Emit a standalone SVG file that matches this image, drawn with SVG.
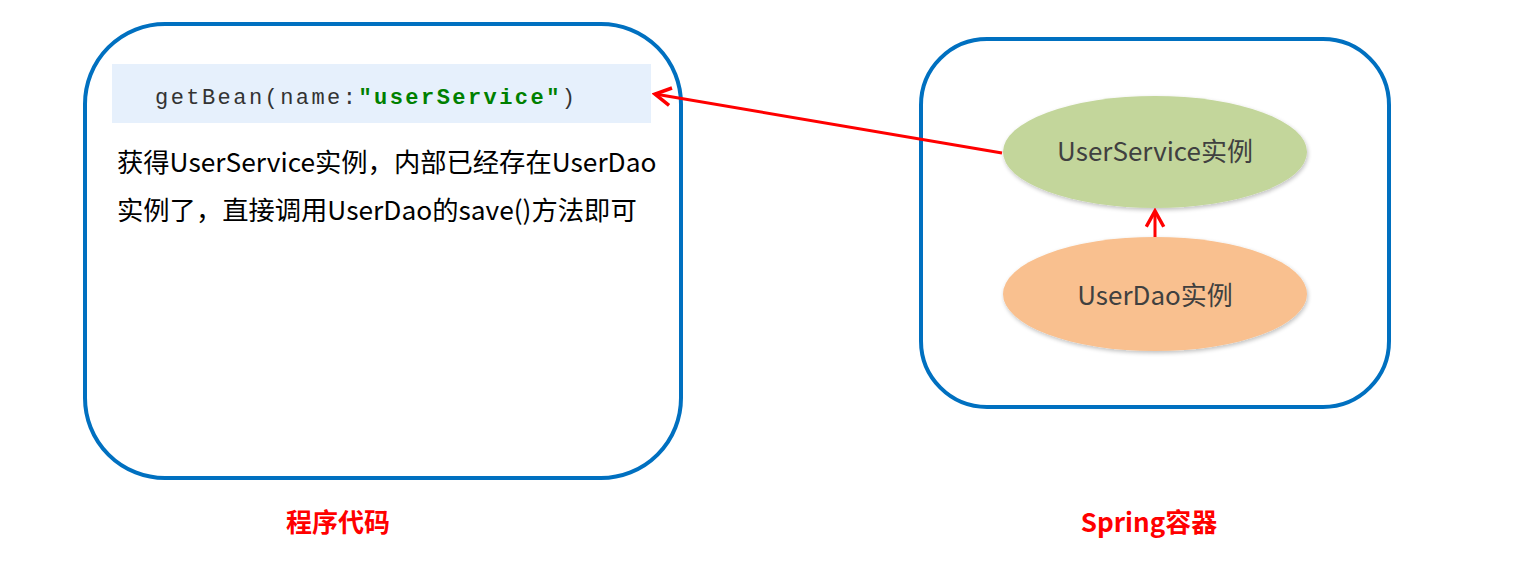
<svg xmlns="http://www.w3.org/2000/svg" width="1532" height="565" viewBox="0 0 1532 565">
  <style>
    .box { fill: #ffffff; stroke: #0070C0; stroke-width: 4; }
    .cjk { font-family: "Noto Sans CJK SC", "Noto Sans", sans-serif; }
    .body { font-size: 26.3px; fill: #000000; }
    .node { font-size: 26px; fill: #404040; text-anchor: middle; }
    .title { font-size: 26px; font-weight: bold; fill: #FF0000; text-anchor: middle; }
    .code { font-family: "Liberation Mono", "DejaVu Sans Mono", monospace; font-size: 22px; fill: #333333; }
    .conn { stroke: #FF0000; stroke-width: 3; fill: none; }
  </style>
  <defs>
    <marker id="open" viewBox="0 0 12 12" refX="10" refY="6" markerWidth="7" markerHeight="7" orient="auto" markerUnits="strokeWidth">
      <path d="M1,1 L10,6 L1,11" fill="none" stroke="#FF0000" stroke-width="2"/>
    </marker>
    <filter id="shadow" x="-10%" y="-20%" width="120%" height="140%">
      <feGaussianBlur in="SourceAlpha" stdDeviation="2"/>
      <feOffset dx="1" dy="2"/>
      <feComponentTransfer><feFuncA type="linear" slope="0.25"/></feComponentTransfer>
      <feMerge><feMergeNode/><feMergeNode in="SourceGraphic"/></feMerge>
    </filter>
  </defs>
  <rect width="1532" height="565" fill="#ffffff"/>

  <g id="program-code">
    <rect class="box" x="85" y="24" width="596" height="454" rx="80" ry="80"/>
    <rect x="112" y="64" width="539" height="59" fill="#E6F0FC"/>
    <text class="code" x="155" y="104" textLength="420" lengthAdjust="spacing">getBean(name:<tspan fill="#008000" font-weight="bold">"userService"</tspan>)</text>
    <text class="cjk body" x="117" y="172">获得UserService实例，内部已经存在UserDao</text>
    <text class="cjk body" x="117" y="220">实例了，直接调用UserDao的save()方法即可</text>
  </g>

  <g id="spring-container">
    <rect class="box" x="921" y="39" width="468" height="368" rx="66" ry="66"/>
  </g>

  <g id="userservice">
    <ellipse cx="1155" cy="152" rx="152" ry="56" fill="#C3D69B" filter="url(#shadow)"/>
    <text class="cjk node" x="1155" y="161">UserService实例</text>
  </g>

  <g id="userdao">
    <ellipse cx="1155" cy="294" rx="152" ry="57" fill="#F9C08F" filter="url(#shadow)"/>
    <text class="cjk node" x="1155" y="305">UserDao实例</text>
  </g>

  <g id="label-program">
    <text class="cjk title" x="338" y="532">程序代码</text>
  </g>
  <g id="label-spring">
    <text class="cjk title" x="1149" y="532">Spring容器</text>
  </g>

  <g id="connectors">
    <line class="conn" x1="1002" y1="153" x2="655" y2="94" marker-end="url(#open)"/>
    <line class="conn" x1="1155" y1="237" x2="1155" y2="211" marker-end="url(#open)"/>
  </g>
</svg>
